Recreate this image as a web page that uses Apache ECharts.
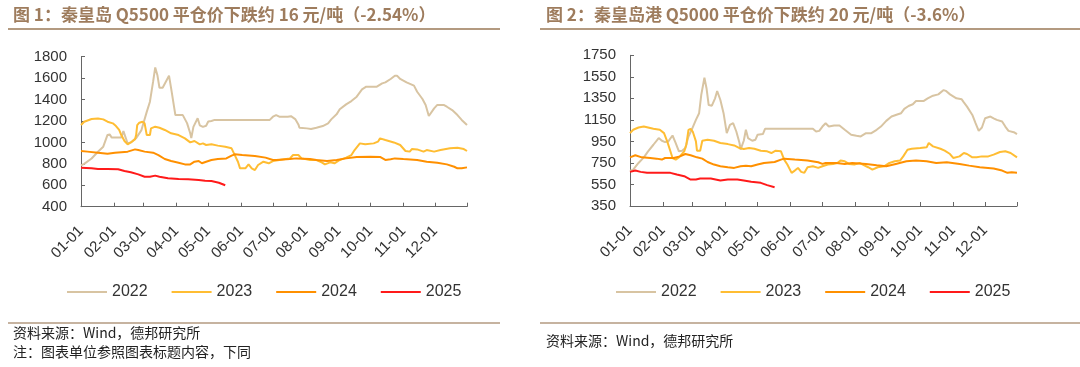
<!DOCTYPE html>
<html><head><meta charset="utf-8">
<script src="https://cdn.jsdelivr.net/npm/echarts@6/dist/echarts.min.js"></script>
<style>html,body{margin:0;padding:0;background:#fff}#c{width:1080px;height:367px}</style>
</head><body><div id="c"></div>
<script>
// ---- categories / ticks ----
const seriesNames = ['2022', '2023', '2024', '2025'];
const monthDays = [0, 31, 59, 90, 120, 151, 181, 212, 243, 273, 304, 334];
const monthLabels = ['01-01','02-01','03-01','04-01','05-01','06-01','07-01','08-01','09-01','10-01','11-01','12-01'];
const yearEndDay = 364;
const yTicks1 = [400, 600, 800, 1000, 1200, 1400, 1600, 1800];
const yTicks2 = [350, 550, 750, 950, 1150, 1350, 1550, 1750];

// ---- Chart 1: 秦皇岛 Q5500 (day of year, price) ----
const q55Days22 = [0,3,10,16,21,25,27,29,38,40,44,47,52,57,62,65,68,70,72,74,77,80,83,85,89,96,100,103,104,106,110,112,115,118,120,123,126,178,181,184,187,195,198,202,205,206,213,217,222,228,233,236,241,244,250,255,260,265,269,279,284,287,292,296,298,301,307,314,317,322,325,328,329,333,336,342,345,350,355,359,364];
const q55Vals22 = [785,800,850,913,960,1070,1075,1045,1047,1105,990,1000,1040,1115,1285,1380,1567,1700,1630,1510,1510,1567,1623,1505,1255,1255,1180,1085,1040,1145,1225,1160,1145,1155,1195,1200,1210,1210,1240,1255,1240,1240,1245,1218,1168,1137,1131,1125,1137,1153,1178,1215,1262,1309,1355,1386,1427,1495,1520,1520,1551,1560,1592,1623,1623,1592,1560,1530,1473,1405,1350,1246,1246,1318,1350,1350,1333,1302,1255,1210,1162];
const q55Days23 = [0,3,10,16,21,25,30,33,36,38,41,44,47,51,52,53,55,58,60,62,65,66,70,74,79,85,92,98,103,107,112,115,118,123,129,136,142,145,148,150,155,158,161,164,167,172,177,181,187,197,200,205,208,216,222,227,230,235,239,244,250,255,258,263,268,276,280,282,287,295,301,306,310,312,317,323,326,333,339,348,355,361,364];
const q55Vals23 = [1162,1193,1218,1224,1215,1193,1178,1153,1116,1069,1013,982,1000,1031,1069,1162,1184,1193,1178,1069,1069,1131,1147,1137,1116,1085,1069,1038,1000,1013,982,991,976,982,970,960,945,882,820,758,758,795,758,742,789,820,805,826,836,851,882,882,851,836,836,814,795,814,805,836,858,882,929,991,982,991,1007,1038,1022,1000,976,920,914,938,935,914,929,914,929,945,951,938,920];
const q55Days24 = [0,6,16,25,32,44,51,54,60,68,73,79,85,92,98,103,107,111,114,118,123,129,137,142,145,152,164,174,181,184,197,203,216,222,232,241,250,260,273,282,287,292,296,304,317,326,336,345,352,355,359,364];
const q55Vals24 = [920,914,904,895,904,914,935,929,914,904,882,845,826,811,795,795,820,826,805,820,836,845,851,876,889,882,873,858,836,836,845,851,845,836,826,836,851,864,867,864,836,842,851,845,836,820,811,795,773,758,758,767];
const q55Days25 = [0,10,16,25,35,41,47,54,60,65,70,74,82,92,101,111,117,123,130,136];
const q55Vals25 = [764,758,752,752,749,733,721,702,680,680,690,680,665,659,656,650,643,640,624,600];

// ---- Chart 2: 秦皇岛港 Q5000 ----
const q50Days22 = [0,3,8,13,17,22,27,30,33,36,40,43,46,49,52,55,58,62,65,67,70,72,74,77,80,82,85,88,91,94,97,100,103,104,107,109,111,115,118,120,125,127,136,172,175,178,181,184,187,192,197,202,208,213,217,222,227,232,236,241,246,252,255,258,262,266,269,276,280,285,290,295,297,301,307,312,314,317,322,325,328,331,334,339,342,345,350,353,356,361,364];
const q50Vals22 = [675,688,750,802,858,919,981,956,944,950,1005,935,858,864,888,996,1058,1150,1212,1381,1541,1442,1288,1282,1350,1418,1335,1212,1027,1104,1119,1042,935,873,956,1058,981,956,966,1012,1018,1067,1067,1067,1042,1048,1088,1119,1088,1098,1098,1058,1012,1002,996,1027,1027,1058,1088,1141,1181,1202,1212,1252,1279,1295,1325,1325,1350,1375,1387,1427,1420,1387,1350,1341,1313,1273,1196,1119,1048,1079,1165,1181,1165,1150,1135,1088,1048,1036,1018];
const q50Days23 = [0,3,8,13,17,22,28,32,35,38,40,43,46,51,53,55,57,59,62,63,66,68,73,79,85,92,98,103,107,112,117,123,129,133,137,142,145,148,152,155,158,161,164,167,172,177,181,186,191,195,198,202,206,211,216,219,224,228,233,239,244,249,254,257,261,265,273,279,281,285,292,296,301,304,310,314,317,322,326,331,337,342,348,353,358,364];
const q50Vals23 = [1027,1058,1079,1088,1079,1067,1058,1027,950,858,796,781,802,858,919,1058,1067,1042,950,864,864,956,966,956,935,925,913,888,879,888,882,864,858,842,864,858,781,735,658,679,704,667,658,710,719,704,719,735,741,750,772,765,741,735,750,735,710,688,710,719,750,765,772,811,873,882,888,895,935,904,882,864,833,796,811,842,833,802,802,811,811,827,852,858,842,802];
const q50Days24 = [0,5,11,19,25,30,33,41,47,52,57,63,68,73,79,85,92,98,104,109,114,120,126,136,142,145,155,167,177,181,184,194,202,209,222,232,241,250,260,269,279,288,298,310,319,329,342,350,355,359,364];
const q50Vals24 = [802,821,802,796,790,781,796,796,811,833,821,802,790,759,735,719,710,704,719,725,719,735,750,759,781,790,781,772,756,741,750,750,741,750,741,729,719,741,765,772,765,750,756,741,725,710,698,679,658,664,658];
const q50Days25 = [0,5,10,16,28,38,44,51,57,62,66,76,85,92,101,107,114,123,129,136];
const q50Vals25 = [667,679,667,658,658,658,642,627,596,596,605,605,587,596,596,587,575,565,544,525];

// ---- styles ----
const colors = ['#D8C4A2', '#FFBD33', '#FF9000', '#FF1A1A'];
const FONT = "'Liberation Sans', Arial, 'Noto Sans CJK SC', sans-serif";
const CJK = "'Noto Sans CJK SC', 'Liberation Sans', sans-serif";

function pairs(days, vals) { return days.map((d, i) => [d, vals[i]]); }

const chart1 = [pairs(q55Days22, q55Vals22), pairs(q55Days23, q55Vals23), pairs(q55Days24, q55Vals24), pairs(q55Days25, q55Vals25)];
const chart2 = [pairs(q50Days22, q50Vals22), pairs(q50Days23, q50Vals23), pairs(q50Days24, q50Vals24), pairs(q50Days25, q50Vals25)];

function xAxis(gridIndex) {
  return {
    type: 'value', gridIndex, min: 0, max: yearEndDay,
    axisLine: { show: true, lineStyle: { color: '#666', width: 1 } },
    axisTick: { show: true, inside: true, length: 4, lineStyle: { color: '#666' }, customValues: monthDays.concat([yearEndDay]) },
    axisLabel: {
      customValues: monthDays, rotate: 45, margin: 22, fontSize: 15, color: '#333', fontFamily: FONT,
      formatter: v => monthLabels[monthDays.indexOf(v)]
    },
    splitLine: { show: false }
  };
}
function yAxis(gridIndex, ticks) {
  return {
    type: 'value', gridIndex, min: ticks[0], max: ticks[ticks.length - 1],
    axisLine: { show: true, lineStyle: { color: '#666', width: 1 } },
    axisTick: { show: true, inside: true, length: 4, lineStyle: { color: '#666' }, customValues: ticks },
    axisLabel: { customValues: ticks, margin: 14, fontSize: 15, color: '#333', fontFamily: FONT, formatter: v => String(v) },
    splitLine: { show: false }
  };
}
function lines(data, idx) {
  return data.map((d, i) => ({
    name: seriesNames[i], type: 'line', xAxisIndex: idx, yAxisIndex: idx, data: d,
    showSymbol: false, symbol: 'none', smooth: false, animation: false,
    lineStyle: { color: colors[i], width: 2 }, itemStyle: { color: colors[i] }, z: 2 + i
  }));
}
function legend(left) {
  return {
    data: seriesNames, left, top: 279, icon: 'rect', itemWidth: 40, itemHeight: 2, itemGap: 24,
    textStyle: { fontSize: 16, color: '#333', fontFamily: FONT, padding: [0, 0, 0, 0] }
  };
}

const option = {
  backgroundColor: '#fff',
  animation: false,
  color: colors,
  title: [
    { text: '图 1：秦皇岛 Q5500 平仓价下跌约 16 元/吨（-2.54%）', left: 8, top: 1,
      textStyle: { fontSize: 17, fontWeight: 'bold', color: '#9E7C5D', fontFamily: CJK } },
    { text: '图 2：秦皇岛港 Q5000 平仓价下跌约 20 元/吨（-3.6%）', left: 541, top: 1,
      textStyle: { fontSize: 17, fontWeight: 'bold', color: '#9E7C5D', fontFamily: CJK } },
    { text: '资料来源：Wind，德邦研究所', left: 8, top: 321, textStyle: { fontSize: 14, fontWeight: 'normal', color: '#222', fontFamily: CJK } },
    { text: '注：图表单位参照图表标题内容，下同', left: 8, top: 340, textStyle: { fontSize: 14, fontWeight: 'normal', color: '#222', fontFamily: CJK } },
    { text: '资料来源：Wind，德邦研究所', left: 541, top: 329, textStyle: { fontSize: 14, fontWeight: 'normal', color: '#222', fontFamily: CJK } }
  ],
  graphic: [
    { type: 'line', shape: { x1: 8, y1: 29, x2: 500, y2: 29 }, style: { stroke: '#B39A80', lineWidth: 2 } },
    { type: 'line', shape: { x1: 540, y1: 29, x2: 1080, y2: 29 }, style: { stroke: '#B39A80', lineWidth: 2 } },
    { type: 'line', shape: { x1: 8, y1: 323, x2: 500, y2: 323 }, style: { stroke: '#B39A80', lineWidth: 1.5 } },
    { type: 'line', shape: { x1: 540, y1: 323, x2: 1080, y2: 323 }, style: { stroke: '#B39A80', lineWidth: 1.5 } }
  ],
  legend: [legend(62), legend(611)],
  grid: [
    { left: 81, top: 56.7, width: 386, height: 150, containLabel: false },
    { left: 630, top: 55.3, width: 387, height: 150.7, containLabel: false }
  ],
  xAxis: [xAxis(0), xAxis(1)],
  yAxis: [yAxis(0, yTicks1), yAxis(1, yTicks2)],
  series: lines(chart1, 0).concat(lines(chart2, 1))
};

const chart = echarts.init(document.getElementById('c'), null, { renderer: 'canvas', width: 1080, height: 367 });
chart.setOption(option);
</script></body></html>
